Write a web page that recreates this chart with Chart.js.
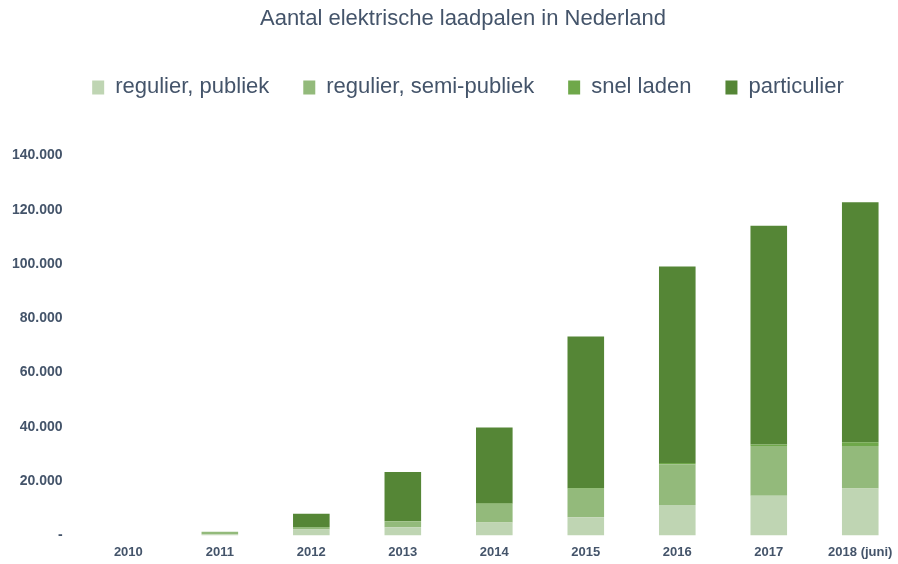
<!DOCTYPE html>
<html>
<head>
<meta charset="utf-8">
<script src="https://cdn.jsdelivr.net/npm/chart.js@4"></script>
<style>
  html, body { margin: 0; padding: 0; background: #fff; overflow: hidden; }
  #wrap { position: relative; width: 906px; height: 564px; }
</style>
</head>
<body>
<div id="wrap"><canvas id="laadChart"></canvas></div>
<script>
// Data
const years = ["2010", "2011", "2012", "2013", "2014", "2015", "2016", "2017", "2018 (juni)"];
const publiek = [0, 400, 2200, 3000, 4750, 6700, 11200, 14600, 17300];
const semiPubliek = [0, 900, 850, 2200, 6800, 10500, 15000, 18300, 15600];
const snelLaden = [0, 0, 50, 100, 200, 300, 500, 600, 1400];
const particulier = [0, 0, 4900, 18100, 28000, 55800, 72400, 80600, 88400];
const yTicks = [0, 20000, 40000, 60000, 80000, 100000, 120000, 140000];

const textColor = '#44546a';

function fmt(v) {
  if (v === 0) return '-';
  return String(v).replace(/\B(?=(\d{3})+(?!\d))/g, '.');
}

// extra room under the legend, and title/legend sit a bit right of centre
const headerTweaks = {
  id: 'headerTweaks',
  beforeInit(chart) {
    const fit = chart.legend.fit;
    chart.legend.fit = function () {
      fit.bind(chart.legend)();
      this.height += 47;
    };
  },
  afterLayout(chart) {
    chart.titleBlock.left += 10;
    chart.titleBlock.right += 10;
    chart.legend.left += 15;
    chart.legend.right += 15;
  }
};

const ctx = document.getElementById('laadChart').getContext('2d');
const laadChart = new Chart(ctx, {
  type: 'bar',
  data: {
    labels: years,
    datasets: [
      { label: 'regulier, publiek', data: publiek, backgroundColor: '#bfd5b3' },
      { label: 'regulier, semi-publiek', data: semiPubliek, backgroundColor: '#93ba7b' },
      { label: 'snel laden', data: snelLaden, backgroundColor: '#6fa84a' },
      { label: 'particulier', data: particulier, backgroundColor: '#558636' }
    ]
  },
  plugins: [headerTweaks],
  options: {
    responsive: true,
    maintainAspectRatio: false,
    animation: false,
    layout: { padding: { left: 0, right: 0, top: 0, bottom: -5 } },
    datasets: {
      bar: { barPercentage: 0.8, categoryPercentage: 0.5, borderWidth: 0 }
    },
    plugins: {
      title: {
        display: true,
        text: 'Aantal elektrische laadpalen in Nederland',
        color: textColor,
        font: { family: '"Liberation Sans", sans-serif', size: 22, weight: 'normal' },
        padding: { top: 6, bottom: 10 }
      },
      legend: {
        position: 'top',
        labels: {
          color: textColor,
          font: { family: '"Liberation Sans", sans-serif', size: 22 },
          boxWidth: 12,
          boxHeight: 14,
          padding: 34
        }
      },
      tooltip: { enabled: false }
    },
    scales: {
      x: {
        stacked: true,
        grid: { display: false, drawTicks: false },
        border: { display: false },
        ticks: {
          color: textColor,
          font: { family: '"Liberation Sans", sans-serif', size: 13, weight: 'bold' },
          maxRotation: 0,
          padding: 9
        }
      },
      y: {
        stacked: true,
        min: 0,
        max: 140000,
        afterBuildTicks: axis => { axis.ticks = yTicks.map(v => ({ value: v })); },
        grid: { display: false },
        border: { display: false },
        ticks: {
          color: textColor,
          font: { family: '"Liberation Sans", sans-serif', size: 14, weight: 'bold' },
          padding: 12,
          callback: v => fmt(v)
        }
      }
    }
  }
});
</script>
</body>
</html>
